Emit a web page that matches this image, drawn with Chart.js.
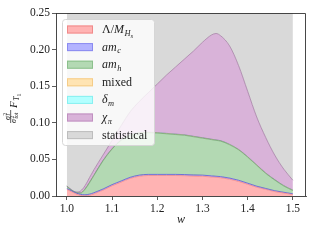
<!DOCTYPE html>
<html>
<head>
<meta charset="utf-8">
<script src="https://cdn.jsdelivr.net/npm/chart.js@4.4.1/dist/chart.umd.min.js"></script>
<style>
  html, body { margin: 0; padding: 0; background: #fff; }
  canvas { display: block; }
</style>
</head>
<body>
<canvas id="ffChart" width="320" height="240"></canvas>
<script>
// Data: error budget contributions, stacked from the bottom
const w = [1.00, 1.01, 1.02, 1.03, 1.04, 1.05, 1.06, 1.08, 1.10, 1.12, 1.14, 1.16, 1.18, 1.20, 1.22,
           1.24, 1.26, 1.28, 1.30, 1.32, 1.33, 1.34, 1.36, 1.38, 1.40, 1.42, 1.44, 1.46, 1.48, 1.50];
const lambdaMH = [0.009, 0.006, 0.003, 0.001, 0.0003, 0.001, 0.003, 0.008, 0.014, 0.019, 0.024, 0.027, 0.028, 0.028, 0.028,
                  0.028, 0.0278, 0.0273, 0.027, 0.026, 0.0255, 0.025, 0.023, 0.020, 0.016, 0.012, 0.009, 0.006, 0.004, 0.002];
const amc = [0.0012, 0.0012, 0.0012, 0.0013, 0.0014, 0.0015, 0.0015, 0.0015, 0.0015, 0.0015, 0.0015, 0.0015, 0.0015, 0.0015, 0.0015,
             0.0015, 0.0015, 0.0015, 0.0015, 0.0015, 0.0015, 0.0015, 0.0015, 0.0015, 0.0015, 0.0014, 0.0013, 0.0012, 0.0011, 0.001];
const amh = [0.0025, 0.0005, 0.0003, 0.0015, 0.0072, 0.0155, 0.0235, 0.0385, 0.0485, 0.0555, 0.0575, 0.0575, 0.057, 0.0565, 0.0555,
             0.0545, 0.0537, 0.0522, 0.0505, 0.0495, 0.049, 0.0485, 0.0455, 0.0415, 0.0355, 0.0285, 0.0205, 0.0145, 0.0085, 0.0045];
const mixed = [0.0003, 0.0003, 0.0003, 0.0003, 0.0003, 0.0003, 0.0003, 0.0003, 0.0003, 0.0003, 0.0003, 0.0003, 0.0003, 0.0003, 0.0003,
               0.0003, 0.0003, 0.0003, 0.0003, 0.0003, 0.0003, 0.0003, 0.0003, 0.0003, 0.0003, 0.0003, 0.0003, 0.0003, 0.0003, 0.0003];
const deltaM = [0.0003, 0.0003, 0.0003, 0.0003, 0.0003, 0.0003, 0.0003, 0.0003, 0.0003, 0.0003, 0.0003, 0.0003, 0.0003, 0.0003, 0.0003,
                0.0003, 0.0003, 0.0003, 0.0003, 0.0003, 0.0003, 0.0003, 0.0003, 0.0003, 0.0003, 0.0003, 0.0003, 0.0003, 0.0003, 0.0003];
const chiPi = [0.0004, 0.0004, 0.0003, 0.0024, 0.0044, 0.0064, 0.0074, 0.0074, 0.0114, 0.0194, 0.0314, 0.0424, 0.0539, 0.0664, 0.0794,
               0.0914, 0.1034, 0.1164, 0.1304, 0.1424, 0.1454, 0.1434, 0.1344, 0.1144, 0.0894, 0.0654, 0.0484, 0.0334, 0.0224, 0.0134];
const statistical = [0.3, 0.3, 0.3, 0.3, 0.3, 0.3, 0.3, 0.3, 0.3, 0.3, 0.3, 0.3, 0.3, 0.3, 0.3,
                     0.3, 0.3, 0.3, 0.3, 0.3, 0.3, 0.3, 0.3, 0.3, 0.3, 0.3, 0.3, 0.3, 0.3, 0.3];

const xTicks = [1.0, 1.1, 1.2, 1.3, 1.4, 1.5];
const yTicks = [0.00, 0.05, 0.10, 0.15, 0.20, 0.25];

const SERIF = '"Liberation Serif", "DejaVu Serif", serif';

// legend labels as rich text pieces: [text, italic, level] (level 1 = sub, 2 = subsub)
const legendItems = [
    { fill: '#ffb3b3', edge: '#f08a8a', parts: [['Λ/', 0, 0], ['M', 1, 0], ['H', 1, 1], ['s', 1, 2]] },
    { fill: '#b3b3ff', edge: '#8a8af0', parts: [['am', 1, 0], ['c', 1, 1]] },
    { fill: '#b3d9b3', edge: '#8cc08c', parts: [['am', 1, 0], ['h', 1, 1]] },
    { fill: '#ffe4b3', edge: '#f5cc88', parts: [['mixed', 0, 0]] },
    { fill: '#b3ffff', edge: '#88f0f0', parts: [['δ', 1, 0], ['m', 1, 1]] },
    { fill: '#d9b3d9', edge: '#c090c0', parts: [['χ', 1, 0], ['π', 1, 1]] },
    { fill: '#d9d9d9', edge: '#bdbdbd', parts: [['statistical', 0, 0]] }
];

function drawRich(c, parts, x, y, size) {
    parts.forEach(([t, it, lvl]) => {
        const sz = lvl === 0 ? size : (lvl === 1 ? size * 0.7 : size * 0.55);
        const dy = lvl === 0 ? 0 : (lvl === 1 ? size * 0.22 : size * 0.38);
        c.font = (it ? 'italic ' : '') + sz + 'px ' + SERIF;
        c.fillText(t, x, y + dy);
        x += c.measureText(t).width + (it && lvl === 0 ? 0.5 : 0);
    });
    return x;
}

const decorPlugin = {
    id: 'decor',
    afterDatasetsDraw(chart) {
        const c = chart.ctx, a = chart.chartArea;
        c.save();
        c.strokeStyle = '#333';
        c.lineWidth = 0.9;
        c.beginPath();
        c.moveTo(a.left, a.top + 0.5);
        c.lineTo(a.right - 0.5, a.top + 0.5);
        c.lineTo(a.right - 0.5, a.bottom);
        c.stroke();
        c.restore();
    },
    afterDraw(chart) {
        const c = chart.ctx;
        c.save();
        // legend box
        const bx = 62.5, by = 19.5, bw = 92, bh = 126;
        c.fillStyle = 'rgba(255,255,255,0.8)';
        c.strokeStyle = '#d6d6d6';
        c.lineWidth = 1;
        c.beginPath();
        c.roundRect(bx, by, bw, bh, 3);
        c.fill();
        c.stroke();
        c.textBaseline = 'alphabetic';
        legendItems.forEach((it, i) => {
            const cy = 29.5 + i * 17.6;
            c.fillStyle = it.fill;
            c.strokeStyle = it.edge;
            c.fillRect(67, cy - 4, 26, 8);
            c.strokeRect(67.5, cy - 3.5, 25, 7);
            c.fillStyle = '#222';
            drawRich(c, it.parts, 102, cy + 3.5, 12);
        });

        // x label
        c.font = 'italic 12px ' + SERIF;
        c.textAlign = 'center';
        c.fillText('w', 181, 223);

        // y label, rotated: fraction sigma_i^2 / sigma_tot^2 then F_{T_1}
        c.translate(17, 108);
        c.rotate(-Math.PI / 2);
        c.textAlign = 'left';
        c.font = 'italic 8px ' + SERIF;
        c.fillText('σ', -12, -7.5);
        c.font = '5.5px ' + SERIF;
        c.fillText('2', -7.6, -10.5);
        c.font = 'italic 5.5px ' + SERIF;
        c.fillText('i', -7.6, -6.6);
        c.fillRect(-15, -6.6, 13, 0.7);
        c.font = 'italic 8px ' + SERIF;
        c.fillText('σ', -15, -0.6);
        c.font = '5.5px ' + SERIF;
        c.fillText('2', -10.6, -3.4);
        c.font = 'italic 5.5px ' + SERIF;
        c.fillText('tot', -10.6, 0.8);
        drawRich(c, [['F', 1, 0], ['T', 1, 1], ['1', 0, 2]], 0, 0, 11);
        c.restore();
    }
};

function layer(label, values, fill, border, fillTo) {
    return {
        label: label,
        data: w.map((x, i) => ({ x: x, y: values[i] })),
        backgroundColor: fill,
        borderColor: border,
        borderWidth: border ? 0.8 : 0,
        fill: fillTo,
        pointRadius: 0,
        cubicInterpolationMode: 'monotone'
    };
}

const tickFont = { family: SERIF, size: 11.5 };

new Chart(document.getElementById('ffChart').getContext('2d'), {
    type: 'line',
    data: {
        datasets: [
            layer('Λ/M_Hs', lambdaMH, '#ffb3b3', 'rgba(235,110,110,0.7)', 'origin'),
            layer('am_c', amc, '#b3b3ff', 'rgba(70,70,200,0.85)', '-1'),
            layer('am_h', amh, '#b3d9b3', 'rgba(90,150,90,0.7)', '-1'),
            layer('mixed', mixed, '#ffe4b3', 'rgba(200,150,60,0.4)', '-1'),
            layer('δ_m', deltaM, '#b3ffff', 'rgba(80,110,160,0.7)', '-1'),
            layer('χ_π', chiPi, '#d9b3d9', 'rgba(150,110,150,0.8)', '-1'),
            layer('statistical', statistical, '#d9d9d9', null, '-1')
        ]
    },
    options: {
        responsive: false,
        animation: false,
        devicePixelRatio: 1,
        layout: { padding: { top: 13, right: 14, left: 0, bottom: 0 } },
        plugins: {
            legend: { display: false },
            tooltip: { enabled: false }
        },
        scales: {
            x: {
                type: 'linear',
                min: 0.976,
                max: 1.529,
                afterBuildTicks: s => { s.ticks = xTicks.map(v => ({ value: v })); },
                afterFit: s => { s.height = 44; },
                ticks: { callback: v => v.toFixed(1), font: tickFont, color: '#222', padding: 2, maxRotation: 0, autoSkip: false },
                grid: { drawOnChartArea: false, drawTicks: true, tickLength: 4, color: '#333', lineWidth: 0.8 },
                border: { color: '#333', width: 0.9 }
            },
            y: {
                stacked: true,
                min: 0,
                max: 0.25,
                afterBuildTicks: s => { s.ticks = yTicks.map(v => ({ value: v })); },
                afterFit: s => { s.width = 56; },
                ticks: { callback: v => v.toFixed(2), font: tickFont, color: '#222', padding: 2 },
                grid: { drawOnChartArea: false, drawTicks: true, tickLength: 4, color: '#333', lineWidth: 0.8 },
                border: { color: '#333', width: 0.9 }
            }
        }
    },
    plugins: [decorPlugin]
});
</script>
</body>
</html>
